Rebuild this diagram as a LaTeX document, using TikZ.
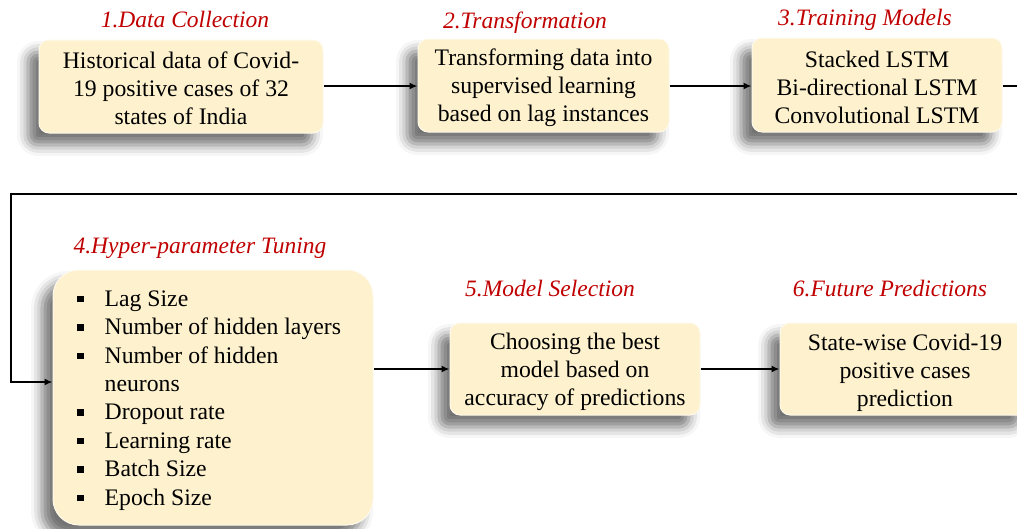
\documentclass[tikz,border=0pt]{standalone}
\usepackage{fontspec}
\setmainfont{Liberation Serif}
\usetikzlibrary{arrows.meta,shadows.blur}
\definecolor{cream}{HTML}{FDF1CE}
\definecolor{ttlred}{HTML}{C00000}
\newcommand\sqbul{\rule[4pt]{6.5pt}{6.5pt}}
\begin{document}
\begin{tikzpicture}[x=1pt,y=-1pt,
 box/.style={rounded corners=10pt, fill=cream, draw=cream!40!white, line width=1pt,
   blur shadow={shadow xshift=-11pt, shadow yshift=-12pt, shadow blur radius=11pt, shadow opacity=55},
   align=center, inner sep=0pt, font=\fontsize{23.7}{28}\selectfont},
 txt/.style={align=center, inner sep=0pt, font=\fontsize{23.7}{28}\selectfont},
 ttl/.style={text=ttlred, font=\fontsize{23.5}{28}\selectfont\itshape, inner sep=0pt},
 arr/.style={line width=1.6pt, -{Latex[length=8pt,width=7pt]}},
 ln/.style={line width=1.6pt}]
\useasboundingbox (0,0) rectangle (1017,528);
\clip (0,0) rectangle (1017,528);

% titles
\node[ttl] (t1) at (185,20) {1.Data Collection};
\node[ttl] (t2) at (525,23) {2.Transformation};
\node[ttl] (t3) at (865,20) {3.Training Models};
\node[ttl] (t4) at (200,248) {4.Hyper-parameter Tuning};
\node[ttl] (t5) at (550,289) {5.Model Selection};
\node[ttl] (t6) at (890,289) {6.Future Predictions};

% boxes
\node[box, minimum width=284, minimum height=93] (c1) at (181,86.5) {};
\node[txt] (c1t) at (181,88.5) {Historical data of Covid-\\19 positive cases of 32\\states of India};
\node[box, minimum width=251, minimum height=93] (c2) at (543.5,85.5) {};
\node[txt] (c2t) at (543.5,88) {Transforming data into\\supervised learning\\based on lag instances};
\node[box, minimum width=250, minimum height=94] (c3) at (877,85) {};
\node[txt] (c3t) at (877,87.5) {Stacked LSTM\\Bi-directional LSTM\\Convolutional LSTM};
\node[box, rounded corners=26pt, minimum width=320, minimum height=255] (hp) at (213,397.5) {};
\node[anchor=west, inner sep=0pt, font=\fontsize{23.7}{28.4}\selectfont] (hplist) at (77,400)
  {\begin{tabular}{@{}l@{\hspace{21pt}}l@{}}
   \sqbul & Lag Size\\
   \sqbul & Number of hidden layers\\
   \sqbul & Number of hidden\\
          & neurons\\
   \sqbul & Dropout rate\\
   \sqbul & Learning rate\\
   \sqbul & Batch Size\\
   \sqbul & Epoch Size
  \end{tabular}};
\node[box, minimum width=250, minimum height=92] (c5) at (575,369) {};
\node[txt] (c5t) at (575,372) {Choosing the best\\model based on\\accuracy of predictions};
\node[box, minimum width=250, minimum height=92] (c6) at (905,369) {};
\node[txt] (c6t) at (905,372.5) {State-wise Covid-19\\positive cases\\prediction};

% connectors
\coordinate (rt) at (1035,194);
\coordinate (lt) at (11,194);
\draw[arr] (c1.east |- 0,86) -- (c2.west |- 0,86);
\draw[arr] (c2.east |- 0,86) -- (c3.west |- 0,86);
\draw[arr] (c3.east |- 0,86) -- (rt |- 0,86) |- (lt) |- ([yshift=15.5pt]hp.west);
\draw[arr] (hp.east |- c5.west) -- (c5.west);
\draw[arr] (c5.east) -- (c6.west);
\end{tikzpicture}
\end{document}
